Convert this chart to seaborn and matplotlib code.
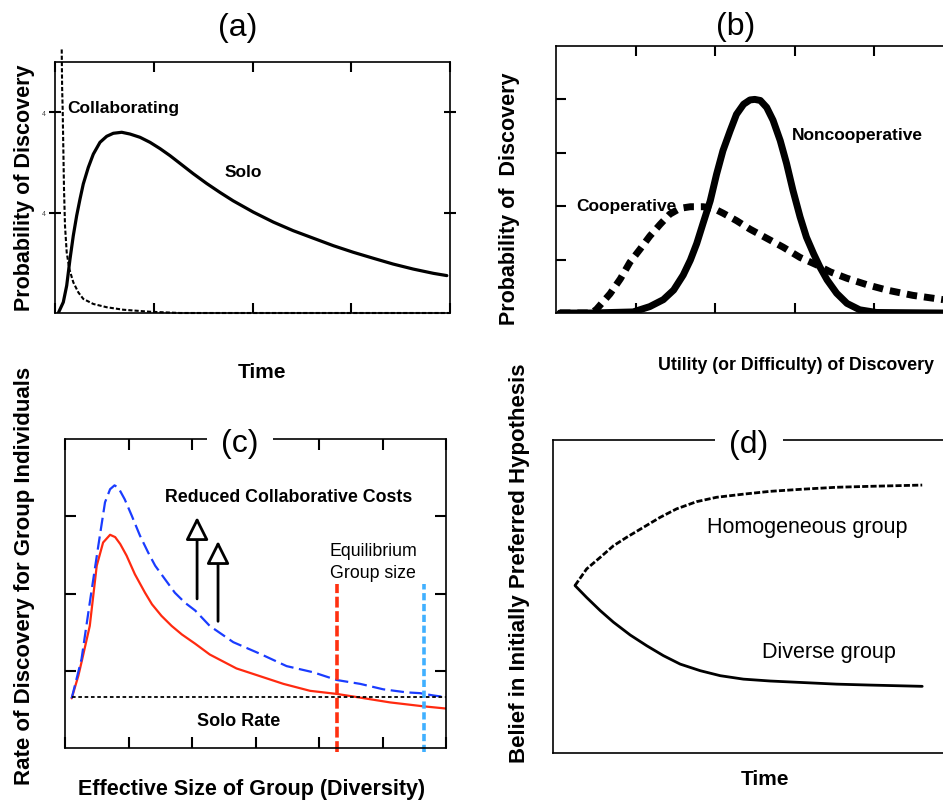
import matplotlib
matplotlib.use("Agg")
import matplotlib.pyplot as plt
import seaborn as sns

sns.set_style("ticks", {"axes.edgecolor": "black", "text.color": "black",
                        "xtick.color": "black", "ytick.color": "black",
                        "axes.labelcolor": "black"})
plt.rcParams["font.family"] = ["Liberation Sans", "DejaVu Sans"]

W, H = 943, 803

# (a) probability of discovery over time
a_solo_x = [0.84, 2.10, 2.96, 3.80, 4.63, 5.49, 6.33, 7.16, 8.43, 9.70, 11.39, 13.09,
            14.76, 16.89, 18.99, 21.52, 24.05, 26.58, 29.11, 31.65, 35.0, 38.4, 41.8,
            45.1, 50.2, 55.3, 60.3, 65.4, 70.5, 75.5, 80.6, 85.6, 90.7, 95.8, 99.2]
a_solo_y = [0.0, 0.043, 0.109, 0.215, 0.308, 0.388, 0.454, 0.514, 0.580, 0.633, 0.680,
            0.704, 0.716, 0.720, 0.713, 0.700, 0.680, 0.655, 0.627, 0.596, 0.555, 0.516,
            0.480, 0.447, 0.402, 0.362, 0.328, 0.298, 0.268, 0.242, 0.218, 0.195, 0.175,
            0.158, 0.149]
a_collab_x = [1.70, 1.80, 1.94, 2.11, 2.28, 2.53, 2.96, 3.63, 4.64, 5.91, 7.17, 9.70,
              13.08, 17.3, 24.05, 31.6, 60.0, 100.0]
a_collab_y = [1.05, 0.90, 0.813, 0.653, 0.494, 0.348, 0.242, 0.175, 0.122, 0.082, 0.056,
              0.036, 0.023, 0.013, 0.005, 0.0, 0.0, 0.0]

# (b) probability vs utility of discovery
b_nonco_x = [0.05, 0.43, 0.97, 1.18, 1.35, 1.48, 1.60, 1.69, 1.77, 1.85, 1.94, 2.02,
             2.10, 2.19, 2.27, 2.36, 2.44, 2.50, 2.57, 2.65, 2.73, 2.82, 2.90, 2.98,
             3.07, 3.15, 3.24, 3.32, 3.41, 3.53, 3.66, 3.82, 4.03, 4.87]
b_nonco_y = [0.0, 0.0, 0.02, 0.12, 0.25, 0.43, 0.71, 0.99, 1.30, 1.68, 2.10, 2.60,
             3.04, 3.41, 3.72, 3.91, 3.99, 4.0, 3.98, 3.85, 3.61, 3.23, 2.80, 2.30,
             1.80, 1.42, 1.11, 0.86, 0.62, 0.37, 0.18, 0.06, 0.01, 0.0]
b_coop_x = [0.05, 0.45, 0.51, 0.68, 0.81, 0.93, 1.06, 1.18, 1.31, 1.43, 1.56, 1.69,
            1.85, 1.98, 2.10, 2.27, 2.44, 2.65, 2.86, 3.07, 3.28, 3.45, 3.66, 3.91,
            4.16, 4.49, 4.87]
b_coop_y = [0.0, 0.0, 0.07, 0.36, 0.64, 0.95, 1.20, 1.44, 1.66, 1.85, 1.96, 1.99,
            1.99, 1.96, 1.87, 1.73, 1.57, 1.40, 1.23, 1.04, 0.90, 0.77, 0.65, 0.53,
            0.43, 0.33, 0.25]

# (c) rate of discovery vs group size
c_red_x = [0.105, 0.21, 0.26, 0.39, 0.50, 0.60, 0.71, 0.79, 0.87, 0.97, 1.10, 1.26,
           1.37, 1.52, 1.68, 1.84, 2.05, 2.28, 2.70, 3.07, 3.44, 3.86, 4.28, 4.59,
           5.12, 5.64, 6.01]
c_red_y = [0.643, 0.935, 1.11, 1.58, 2.36, 2.66, 2.76, 2.73, 2.64, 2.49, 2.25, 2.01,
           1.86, 1.71, 1.58, 1.47, 1.35, 1.21, 1.03, 0.93, 0.83, 0.74, 0.70, 0.66,
           0.59, 0.54, 0.51]
c_blue_x = [0.105, 0.26, 0.39, 0.525, 0.63, 0.71, 0.78, 0.84, 0.94, 1.05, 1.18, 1.31,
            1.42, 1.57, 1.73, 1.89, 2.05, 2.28, 2.65, 3.07, 3.49, 3.91, 4.28, 4.65,
            5.01, 5.38, 5.59, 5.80, 5.98]
c_blue_y = [0.643, 1.15, 1.88, 2.62, 3.18, 3.35, 3.40, 3.37, 3.22, 3.01, 2.75, 2.53,
            2.36, 2.19, 2.01, 1.88, 1.78, 1.58, 1.37, 1.22, 1.06, 0.98, 0.88, 0.83,
            0.76, 0.72, 0.71, 0.68, 0.66]
c_solo_rate = 0.66
c_solo_x = [0.11, 6.0]
c_equil_red = 4.28
c_equil_blue = 5.65
c_equil_y = [-0.05, 2.12]
c_arrows = [(2.08, 1.93, 2.99), (2.41, 1.64, 2.68)]

# (d) belief over time
d_homog_x = [0.55, 0.84, 1.18, 1.51, 1.84, 2.26, 2.68, 3.09, 3.59, 4.09, 4.76, 5.43,
             6.26, 7.09, 7.93, 9.23]
d_homog = [0.535, 0.588, 0.625, 0.662, 0.689, 0.721, 0.753, 0.780, 0.803, 0.817,
           0.827, 0.836, 0.843, 0.849, 0.852, 0.856]
d_div_x = [0.55, 0.84, 1.18, 1.51, 1.93, 2.34, 2.76, 3.18, 3.68, 4.18, 4.76, 5.43,
           6.26, 7.09, 7.93, 9.23]
d_div = [0.535, 0.497, 0.455, 0.418, 0.377, 0.343, 0.311, 0.284, 0.263, 0.247, 0.236,
         0.230, 0.225, 0.220, 0.217, 0.213]


def box(l, t, r, b):
    return [l / W, 1 - b / H, (r - l) / W, (b - t) / H]


def ftext(px, py, s, **kw):
    fig.text(px / W, 1 - py / H, s, **kw)


def line(ax, x, y, **kw):
    sns.lineplot(x=x, y=y, ax=ax, estimator=None, sort=False, **kw)


fig = plt.figure(figsize=(W / 100, H / 100), dpi=100)

# ---------------- (a)
ax = fig.add_axes(box(55, 63, 450, 314))
line(ax, a_solo_x, a_solo_y, color="black", lw=2.3)
line(ax, a_collab_x, a_collab_y, color="black", lw=1.5,
     linestyle=(0, (2, 1)), clip_on=False)
ax.set_xlim(0, 100)
ax.set_ylim(0, 1)
ax.set_xticks([0, 25, 50, 75, 100])
ax.set_yticks([0.4, 0.8])
ax.set_xticklabels([])
ax.set_yticklabels(["4", "4"], fontsize=5, color="#444444")
ax.tick_params(direction="in", length=7, width=1.5, top=True, right=True, pad=2)
ax.tick_params(axis="y", direction="inout", length=9)
for s in ax.spines.values():
    s.set_linewidth(1.2)
ax.text(3.2, 0.82, "Collaborating", fontsize=12.5, fontweight="bold", va="center")
ax.text(43, 0.565, "Solo", fontsize=12.5, fontweight="bold", va="center")
ftext(238, 28, "(a)", fontsize=23, ha="center", va="center")
ftext(262, 372, "Time", fontsize=15, fontweight="bold", ha="center", va="center")
ftext(25, 188, "Probability of Discovery", fontsize=15.5, fontweight="bold",
      rotation=90, ha="center", va="center")

# ---------------- (b)
ax = fig.add_axes(box(556, 47, 953.5, 314))
line(ax, b_nonco_x, b_nonco_y, color="black", lw=5)
line(ax, b_coop_x, b_coop_y, color="black", lw=5, linestyle=(0, (1.5, 1.0)))
ax.set_xlim(0, 5)
ax.set_ylim(0, 5)
ax.set_xticks([1, 2, 3, 4])
ax.set_yticks([1, 2, 3, 4])
ax.set_xticklabels([])
ax.set_yticklabels([])
ax.tick_params(direction="in", length=7, width=1.5, top=True)
ax.spines["right"].set_visible(False)
for s in ax.spines.values():
    s.set_linewidth(1.2)
ax.text(2.97, 3.35, "Noncooperative", fontsize=12.5, fontweight="bold", va="center")
ax.text(0.25, 2.02, "Cooperative", fontsize=12.5, fontweight="bold", va="center")
ftext(736, 27, "(b)", fontsize=23, ha="center", va="center")
ftext(796, 365, "Utility (or Difficulty) of Discovery", fontsize=12.8,
      fontweight="bold", ha="center", va="center")
ftext(510, 199, "Probability of  Discovery", fontsize=15.5, fontweight="bold",
      rotation=90, ha="center", va="center")

# ---------------- (c)
ax = fig.add_axes(box(65, 440, 446, 749))
line(ax, c_red_x, c_red_y, color="#ff2a10", lw=1.6)
line(ax, c_blue_x, c_blue_y, color="#1a3cff", lw=1.6, linestyle=(0, (6, 2.5)))
line(ax, c_solo_x, [c_solo_rate, c_solo_rate], color="black", lw=1.3,
     linestyle=(0, (2, 1.5)))
line(ax, [c_equil_red, c_equil_red], c_equil_y, color="#ff3010", lw=2.6,
     linestyle=(0, (3, 1)), clip_on=False)
line(ax, [c_equil_blue, c_equil_blue], c_equil_y, color="#40b0ff", lw=2.6,
     linestyle=(0, (2, 1)), clip_on=False)
for xa, y0, y1 in c_arrows:
    ax.annotate("", xy=(xa, y1), xytext=(xa, y0),
                arrowprops=dict(arrowstyle="-|>,head_length=1.0,head_width=0.5",
                                mutation_scale=14, lw=2.0, color="black",
                                fc="white", shrinkA=0, shrinkB=0))
ax.set_xlim(0, 6)
ax.set_ylim(0, 4)
ax.set_xticks([0, 1, 2, 3, 4, 5, 6])
ax.set_yticks([1, 2, 3])
ax.set_xticklabels([])
ax.set_yticklabels([])
ax.tick_params(direction="in", length=8, width=1.5, top=True, right=True)
for s in ax.spines.values():
    s.set_linewidth(1.2)
ax.text(3.52, 3.25, "Reduced Collaborative Costs", fontsize=12.8,
        fontweight="bold", ha="center", va="center")
ax.text(4.17, 2.56, "Equilibrium", fontsize=12.8, va="center")
ax.text(4.17, 2.27, "Group size", fontsize=12.8, va="center")
ax.text(2.73, 0.36, "Solo Rate", fontsize=13, fontweight="bold", ha="center", va="center")
ftext(240, 444, "(c)", fontsize=23, ha="center", va="center",
      bbox=dict(boxstyle="square,pad=0.45", fc="white", ec="none"))
ftext(252, 790, "Effective Size of Group (Diversity)", fontsize=15.5,
      fontweight="bold", ha="center", va="center")
ftext(25, 576, "Rate of Discovery for Group Individuals", fontsize=16,
      fontweight="bold", rotation=90, ha="center", va="center")

# ---------------- (d)
ax = fig.add_axes(box(553, 441, 953, 754))
line(ax, d_homog_x, d_homog, color="black", lw=2, linestyle=(0, (2.2, 0.8)))
line(ax, d_div_x, d_div, color="black", lw=2)
ax.set_xlim(0, 10)
ax.set_ylim(0, 1)
ax.set_xticks([])
ax.set_yticks([])
ax.spines["right"].set_visible(False)
for s in ax.spines.values():
    s.set_linewidth(1.2)
ax.text(3.85, 0.725, "Homogeneous group", fontsize=15.5, va="center")
ax.text(5.22, 0.325, "Diverse group", fontsize=15.5, va="center")
ftext(749, 445, "(d)", fontsize=23, ha="center", va="center",
      bbox=dict(boxstyle="square,pad=0.45", fc="white", ec="none"))
ftext(765, 780, "Time", fontsize=15, fontweight="bold", ha="center", va="center")
ftext(520, 563, "Belief in Initially Preferred Hypothesis", fontsize=16,
      fontweight="bold", rotation=90, ha="center", va="center")

plt.savefig("out.png", dpi=100)
plt.close()
